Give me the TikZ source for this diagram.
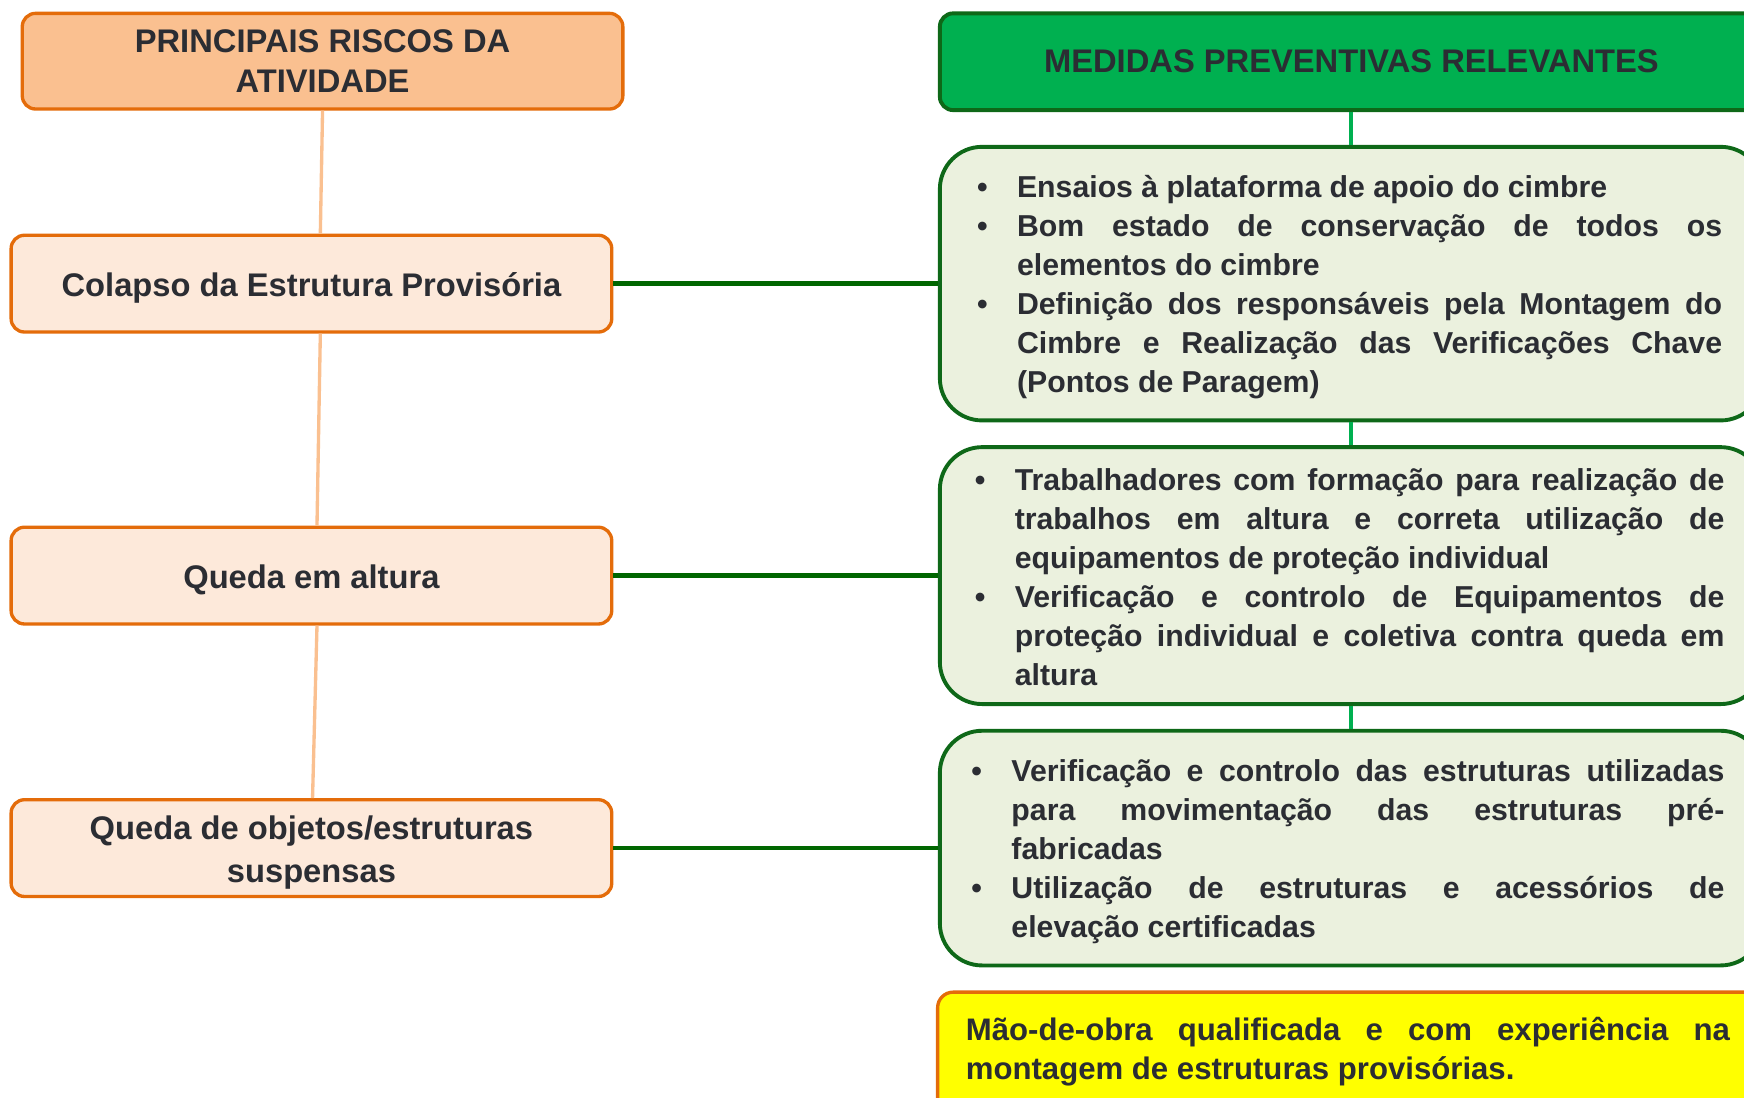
\documentclass[tikz,border=0pt]{standalone}
\usepackage{fontspec}
\setmainfont{Liberation Sans}
\setlength{\parindent}{0pt}
\tolerance=10000
\hyphenpenalty=10000
\definecolor{txt}{RGB}{43,45,51}
\definecolor{orng}{RGB}{228,108,10}
\definecolor{orhead}{RGB}{250,192,144}
\definecolor{orlight}{RGB}{253,233,218}
\definecolor{dgreen}{RGB}{14,104,24}
\definecolor{hgreen}{RGB}{0,102,0}
\definecolor{mgreen}{RGB}{0,176,80}
\definecolor{lgreen}{RGB}{235,241,222}
\definecolor{yell}{RGB}{255,255,0}
\newcommand\itm{\noindent\hangindent=20pt\hangafter=1\makebox[20pt][l]{\hspace{2pt}\textbullet}}
\begin{document}
\begin{tikzpicture}[x=0.5pt,y=-0.5pt,
  titlefont/.style={font=\bfseries\fontsize{14.7}{18}\selectfont},
  riskhead/.style={draw=orng, fill=orhead, line width=1.5pt, rounded corners=6pt,
    minimum width=270pt, minimum height=43pt, inner sep=0pt, text=txt, align=center, titlefont},
  riskbox/.style={draw=orng, fill=orlight, line width=1.5pt, rounded corners=6pt,
    minimum width=270pt, minimum height=43.5pt, inner sep=0pt, text=txt, align=center, titlefont},
  mhead/.style={draw=dgreen, fill=mgreen, line width=1.75pt, rounded corners=6pt,
    minimum width=370pt, minimum height=43.5pt, inner sep=0pt, text=txt, titlefont},
  mbox/.style={draw=dgreen, fill=lgreen, line width=1.75pt, rounded corners=19pt,
    minimum width=370pt, inner sep=0pt},
  ybox/.style={draw=orng, fill=yell, line width=1.5pt, rounded corners=7pt,
    minimum width=371pt, minimum height=55pt, inner sep=0pt},
  txtblock/.style={anchor=west, inner sep=0pt, align=justify, text=txt,
    font=\bfseries\fontsize{13.6}{17.5}\selectfont},
  oline/.style={draw=orhead, line width=1.5pt},
  hline/.style={draw=hgreen, line width=2pt},
  vline/.style={draw=mgreen, line width=1.75pt}]
\useasboundingbox (0,0) rectangle (1568,987);
\clip (0,0) rectangle (1568,987);

% left column
\node[riskhead] (LH) at (290,55) {PRINCIPAIS RISCOS DA\\ATIVIDADE};
\node[riskbox, text height=13pt, text depth=1pt] (R1) at (280,255) {Colapso da Estrutura Provisória};
\node[riskbox, text height=13pt, text depth=1pt] (R2) at (280,517.5) {Queda em altura};
\node[riskbox, font=\bfseries\fontsize{14.7}{19.5}\selectfont] (R3) at (280,762.5) {\rule{0pt}{14.7pt}Queda de objetos/estruturas\\suspensas};

% right column
\node[mhead] (MH) at (1215,55.5) {MEDIDAS PREVENTIVAS RELEVANTES};
\node[mbox, minimum height=123pt] (B1) at (1215,255) {};
\node[mbox, minimum height=115.5pt] (B2) at (1215,517.5) {};
\node[mbox, minimum height=105.5pt] (B3) at (1215,762.5) {};
\node[ybox] (Y) at (1214,947) {};

\node[txtblock, text width=337pt] (T1) at (874,258) {%
\itm Ensaios à plataforma de apoio do cimbre\par
\itm Bom estado de conservação de todos os\linebreak elementos do cimbre\par
\itm Definição dos responsáveis pela Montagem do\linebreak Cimbre e Realização das Verificações Chave\linebreak (Pontos de Paragem)\par};

\node[txtblock, text width=339pt] (T2) at (872,519) {%
\itm Trabalhadores com formação para realização de\linebreak trabalhos em altura e correta utilização de\linebreak equipamentos de proteção individual\par
\itm Verificação e controlo de Equipamentos de\linebreak proteção individual e coletiva contra queda em\linebreak altura\par};

\node[txtblock, text width=340.5pt] (T3) at (869,765.5) {%
\itm Verificação e controlo das estruturas utilizadas\linebreak para movimentação das estruturas pré-\linebreak fabricadas\par
\itm Utilização de estruturas e acessórios de\linebreak elevação certificadas\par};

\node[txtblock, text width=343.5pt, font=\bfseries\fontsize{14}{17.5}\selectfont] (T4) at (868,945.5) {%
Mão-de-obra qualificada e com experiência na\linebreak montagem de estruturas provisórias.\par};

% connectors
\draw[oline] (LH.south) -- ([xshift=4pt]R1.north);
\draw[oline] ([xshift=4pt]R1.south) -- ([xshift=2.5pt]R2.north);
\draw[oline] ([xshift=2.5pt]R2.south) -- ([xshift=0.5pt]R3.north);
\draw[vline] (MH.south) -- (B1.north);
\draw[vline] (B1.south) -- (B2.north);
\draw[vline] (B2.south) -- (B3.north);
\draw[hline] (R1.east) -- (B1.west);
\draw[hline] (R2.east) -- (B2.west);
\draw[hline] (R3.east) -- (B3.west);
\end{tikzpicture}
\end{document}
